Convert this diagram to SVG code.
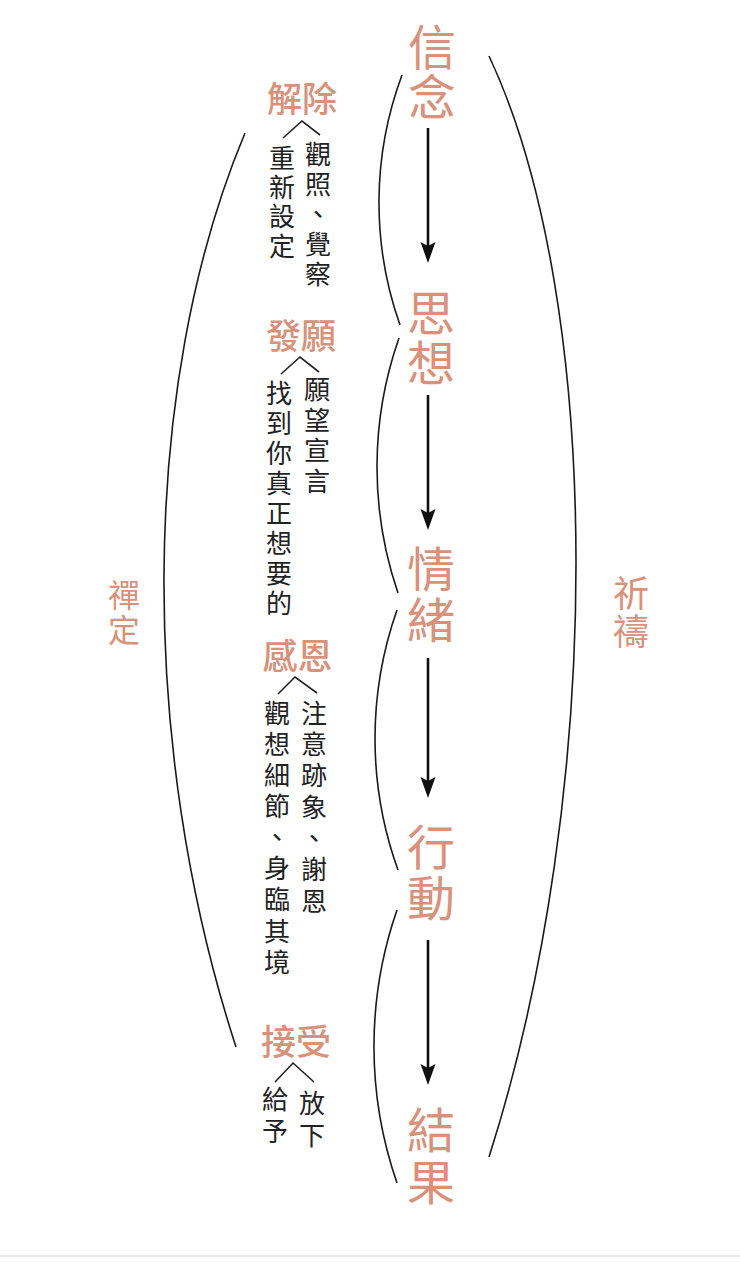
<svg xmlns="http://www.w3.org/2000/svg" width="740" height="1266" viewBox="0 0 740 1266">
<style>
text{font-family:"Noto Sans CJK TC","Noto Sans CJK SC",sans-serif}
.v{writing-mode:vertical-rl}
.main{font-size:48px;fill:#d8917b}
.head{font-size:35px;font-weight:500;fill:#d8917b;text-anchor:middle}
.side{fill:#d8917b}
.body{font-size:26px;fill:#222}
.caret{fill:none;stroke:#222;stroke-width:1.6}
.arc{fill:none;stroke:#1a1a1a;stroke-width:1.6}
.arrow{fill:none;stroke:#111;stroke-width:2.6;marker-end:url(#ah)}
</style>
<defs>
<marker id="ah" markerUnits="userSpaceOnUse" markerWidth="24" markerHeight="18" viewBox="0 -9 24 18" refX="11" refY="0" orient="auto">
<path d="M0,-7.5 L21,0 L0,7.5 L4,0 Z" fill="#111"/>
</marker>
</defs>
<rect x="0" y="0" width="740" height="1266" fill="#ffffff"/>
<line x1="0" y1="1256" x2="740" y2="1256" stroke="#ececec" stroke-width="2"/>

<g id="connectors">
<line class="arrow" x1="428" y1="128" x2="428" y2="253"/>
<line class="arrow" x1="428" y1="395" x2="428" y2="520"/>
<line class="arrow" x1="428" y1="658" x2="428" y2="788"/>
<line class="arrow" x1="428" y1="940" x2="428" y2="1075"/>
<path class="arc" d="M402,75 A366,366 0 0 0 400,325"/>
<path class="arc" d="M399,338 A389,389 0 0 0 398,593"/>
<path class="arc" d="M397,610 A387,387 0 0 0 398,870"/>
<path class="arc" d="M397,910 A416,416 0 0 0 397,1183"/>
<path class="arc" d="M245,133 C138.5,387 138.5,747 236,1047"/>
<path class="arc" d="M489,56 C605,303 605,795 489,1157"/>
</g>

<g id="node-xinnian"><text class="main v" x="432" y="23" letter-spacing="2">信念</text></g>
<g id="node-sixiang"><text class="main v" x="431" y="289" letter-spacing="2">思想</text></g>
<g id="node-qingxu"><text class="main v" x="431" y="545" letter-spacing="3">情緒</text></g>
<g id="node-xingdong"><text class="main v" x="431" y="823" letter-spacing="3">行動</text></g>
<g id="node-jieguo"><text class="main v" x="431" y="1106" letter-spacing="4">結果</text></g>

<g id="label-chanding"><text class="side v" font-size="32" x="124" y="579" letter-spacing="3">禪定</text></g>
<g id="label-qidao"><text class="side v" font-size="36" x="631" y="575" letter-spacing="2">祈禱</text></g>

<g id="node-jiechu">
<text class="head" x="302" y="112">解除</text>
<polyline class="caret" points="283,138 302,121 320,135"/>
<text class="body v" x="318" y="141" letter-spacing="4">觀照、覺察</text>
<text class="body v" x="282" y="145" letter-spacing="3.3">重新設定</text>
</g>

<g id="node-fayuan">
<text class="head" x="301" y="349">發願</text>
<polyline class="caret" points="281,374 300,357 319,372"/>
<text class="body v" x="317" y="376" letter-spacing="4.7">願望宣言</text>
<text class="body v" x="279" y="380" letter-spacing="4">找到你真正想要的</text>
</g>

<g id="node-ganen">
<text class="head" x="297.5" y="669">感恩</text>
<polyline class="caret" points="278,694 295,677 317,693"/>
<text class="body v" x="314" y="700" letter-spacing="5.3">注意跡象、謝恩</text>
<text class="body v" x="277" y="700" letter-spacing="5.1">觀想細節、身臨其境</text>
</g>

<g id="node-jieshou">
<text class="head" x="296" y="1055">接受</text>
<polyline class="caret" points="275,1082 293,1063 314,1082"/>
<text class="body v" x="312" y="1090" letter-spacing="6">放下</text>
<text class="body v" x="275" y="1086" letter-spacing="6">給予</text>
</g>
</svg>
